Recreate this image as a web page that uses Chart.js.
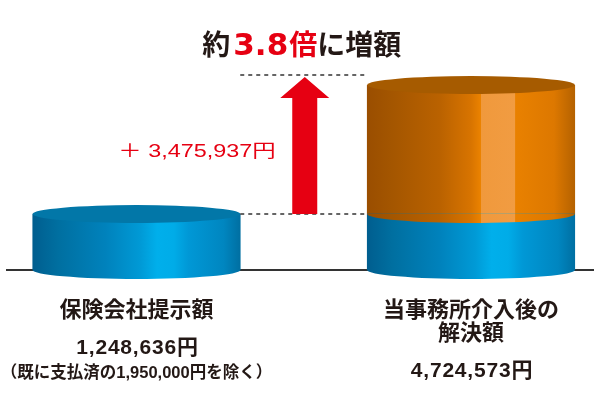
<!DOCTYPE html>
<html><head><meta charset="utf-8">
<script src="https://cdn.jsdelivr.net/npm/chart.js@4"></script>
<style>html,body{margin:0;padding:0;background:#fff}#wrap{width:600px;height:400px}</style>
</head><body><div id="wrap"><canvas id="c" width="600" height="400"></canvas></div>
<script>
// ---- data ----
const categories = ['保険会社提示額', '当事務所介入後の解決額'];
const categoryLines = [['保険会社提示額'], ['当事務所介入後の', '解決額']];
const baseAmounts = [1248636, 1248636];
const increaseAmounts = [null, 3475937];
const totalLabels = ['1,248,636円', '4,724,573円'];
const noteLabels = ['（既に支払済の1,950,000円を除く）', ''];
const increaseLabel = '＋ 3,475,937円';
const titleParts = ['約', '3.8', '倍', 'に増額'];
const AXIS_MIN = -260000;
const AXIS_MAX = 4724573;

// ---- styles ----
const BLACK = '#231815', RED = '#E60012';
const CJK = '"Noto Sans CJK JP"';
const LAT = '"Liberation Sans"';
const RY = 9;
const BAR_W = 207.5;
const blueStops = [[0,'#005E8F'],[0.12,'#006FA0'],[0.35,'#0082BC'],[0.52,'#009AD6'],[0.6,'#00AFEB'],[0.68,'#00ACE8'],[0.75,'#0098D6'],[0.92,'#0086C0'],[1,'#006FA2']];
const orangeStops = [[0,'#9A4E00'],[0.12,'#A45600'],[0.35,'#BA6200'],[0.5,'#D87400'],[0.549,'#EC8300'],[0.55,'#F0993C'],[0.71,'#F19C42'],[0.715,'#E98100'],[0.9,'#DD7800'],[1,'#B56200']];
const topColors = ['#0277A8', '#A65B00'];

function grad(ctx, cx, stops) {
  const g = ctx.createLinearGradient(cx - BAR_W / 2, 0, cx + BAR_W / 2, 0);
  stops.forEach(s => g.addColorStop(s[0], s[1]));
  return g;
}
function scriptBg(stops) {
  return (c) => {
    const xs = c.chart.scales && c.chart.scales.x;
    if (!xs || !c.chart.chartArea) return stops[3][1];
    return grad(c.chart.ctx, xs.getPixelForValue(c.dataIndex), stops);
  };
}

const cylinderPlugin = {
  id: 'cylinders',
  beforeDatasetsDraw(chart) {
    const {ctx} = chart;
    const y0 = chart.scales.y.getPixelForValue(AXIS_MIN);
    ctx.save();
    ctx.strokeStyle = '#333';
    ctx.lineWidth = 2;
    ctx.beginPath(); ctx.moveTo(6, y0); ctx.lineTo(594, y0); ctx.stroke();
    ctx.restore();
  },
  afterDatasetsDraw(chart) {
    const {ctx} = chart;
    const xs = chart.scales.x;
    const stopsList = [blueStops, orangeStops];
    const tops = [];
    ctx.save();
    chart.data.datasets.forEach((ds, di) => {
      const meta = chart.getDatasetMeta(di);
      meta.data.forEach((el, i) => {
        if (ds.data[i] == null) return;
        const p = el.getProps(['x', 'y', 'base', 'width'], true);
        ctx.fillStyle = grad(ctx, p.x, stopsList[di]);
        ctx.beginPath();
        ctx.ellipse(p.x, p.base, p.width / 2, RY, 0, 0, Math.PI);
        ctx.closePath();
        ctx.fill();
        tops[i] = {x: p.x, y: p.y, w: p.width, c: topColors[di]};
      });
    });
    tops.forEach(t => {
      if (!t) return;
      ctx.fillStyle = t.c;
      ctx.beginPath();
      ctx.ellipse(t.x, t.y, t.w / 2, RY, 0, 0, Math.PI * 2);
      ctx.fill();
    });

    // dashed guide lines
    const left = tops[0], right = tops[1];
    const x1 = left.x + left.w / 2, x2 = right.x - right.w / 2;
    const yLow = left.y, yHigh = right.y - RY - 1;
    ctx.strokeStyle = '#333';
    ctx.lineWidth = 1.5;
    ctx.setLineDash([4, 4]);
    ctx.beginPath();
    ctx.moveTo(x1, yHigh); ctx.lineTo(x2, yHigh);
    ctx.moveTo(x1, yLow); ctx.lineTo(x2, yLow);
    ctx.stroke();
    ctx.setLineDash([]);

    // arrow
    const ax = (x1 + x2) / 2 + 1;
    const tip = yHigh + 2, headH = 21, headHW = 24.5, shaftHW = 12.5;
    ctx.fillStyle = RED;
    ctx.beginPath();
    ctx.moveTo(ax, tip);
    ctx.lineTo(ax + headHW, tip + headH);
    ctx.lineTo(ax + shaftHW, tip + headH);
    ctx.lineTo(ax + shaftHW, yLow);
    ctx.lineTo(ax - shaftHW, yLow);
    ctx.lineTo(ax - shaftHW, tip + headH);
    ctx.lineTo(ax - headHW, tip + headH);
    ctx.closePath();
    ctx.fill();

    // increase label (wide digits: horizontal stretch)
    ctx.save();
    const sx = 1.3;
    ctx.font = `18px ${LAT}, ${CJK}`;
    ctx.fillStyle = RED;
    ctx.textAlign = 'right';
    ctx.textBaseline = 'middle';
    ctx.translate(ax - 29, (yHigh + yLow) / 2 + 8);
    ctx.scale(sx, 1);
    ctx.fillText(increaseLabel, 0, 0);
    ctx.restore();

    // title
    const fonts = [`bold 28px ${CJK}`, `bold 31px "DejaVu Sans"`, `bold 28px ${CJK}`, `bold 28px ${CJK}`];
    const colors = [BLACK, RED, RED, BLACK];
    const gaps = [3, 1, 0, 0];
    ctx.textAlign = 'left';
    ctx.textBaseline = 'alphabetic';
    const widths = titleParts.map((t, i) => { ctx.font = fonts[i]; return ctx.measureText(t).width + gaps[i]; });
    let tx = ax - 3 - widths.reduce((a, b) => a + b, 0) / 2;
    titleParts.forEach((t, i) => {
      ctx.font = fonts[i]; ctx.fillStyle = colors[i];
      ctx.fillText(t, tx, 55);
      tx += widths[i];
    });

    // category labels, totals, notes
    ctx.textAlign = 'center';
    ctx.textBaseline = 'middle';
    categories.forEach((c, i) => {
      const cx = xs.getPixelForValue(i);
      let y = 309;
      ctx.fillStyle = BLACK;
      ctx.font = `bold 22px ${CJK}`;
      categoryLines[i].forEach((line, k) => {
        y = 309 + k * 23;
        ctx.fillText(line, cx, y);
      });
      ctx.font = `bold 21px ${LAT}, ${CJK}`;
      ctx.letterSpacing = '0.8px';
      ctx.fillText(totalLabels[i], cx + 1, y + 39);
      ctx.letterSpacing = '0px';
      if (noteLabels[i]) {
        ctx.font = `bold 16.5px ${LAT}, ${CJK}`;
        ctx.fillText(noteLabels[i], cx, y + 64);
      }
    });
    ctx.restore();
  }
};

new Chart(document.getElementById('c'), {
  type: 'bar',
  data: {
    labels: categories,
    datasets: [
      {label: 'base', data: baseAmounts, base: AXIS_MIN, barThickness: BAR_W, backgroundColor: scriptBg(blueStops), borderWidth: 0, clip: false},
      {label: 'increase', data: increaseAmounts, barThickness: BAR_W, backgroundColor: scriptBg(orangeStops), borderWidth: 0, clip: false}
    ]
  },
  options: {
    responsive: false,
    devicePixelRatio: 1,
    animation: false,
    layout: {padding: {top: 85, bottom: 130, left: 136.5, right: 129}},
    plugins: {legend: {display: false}, tooltip: {enabled: false}, title: {display: false}},
    scales: {
      x: {type: 'category', offset: false, display: false, stacked: true, grid: {display: false}},
      y: {display: false, stacked: true, min: AXIS_MIN, max: AXIS_MAX, grid: {display: false}}
    }
  },
  plugins: [cylinderPlugin]
});
</script>
</body></html>
